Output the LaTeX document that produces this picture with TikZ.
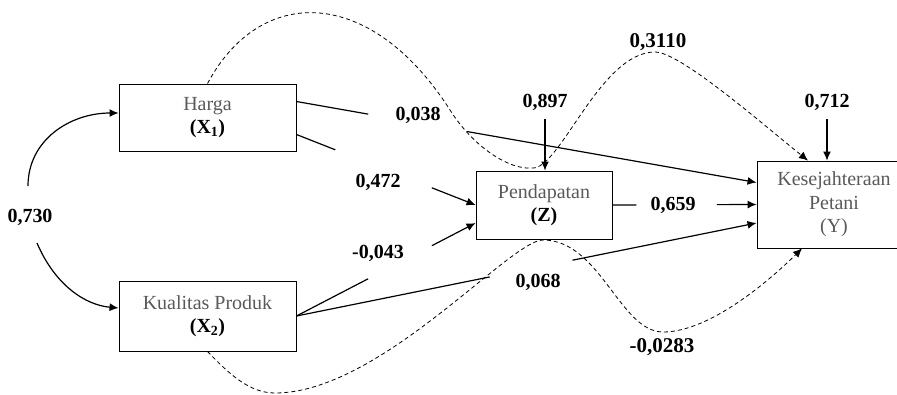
\documentclass[tikz,border=0pt]{standalone}
\usepackage{fontspec}
\setmainfont{Liberation Serif}
\usetikzlibrary{calc,arrows.meta}

\begin{document}
\begin{tikzpicture}[x=1pt,y=-1pt,
  box/.style={draw, line width=0.9pt, minimum width=177pt, minimum height=67pt,
    align=center, font=\fontsize{20}{23.5}\selectfont, text=black!65},
  lbl/.style={font=\fontsize{20}{22}\selectfont\bfseries, inner sep=1pt},
  link/.style={line width=1.2pt},
  arr/.style={line width=1.2pt, -{Latex[length=9pt,width=8pt]}},
  indirect/.style={line width=0.8pt, dash pattern=on 4pt off 3pt, -{Latex[length=9pt,width=8pt]}}]
  \clip (0,0) rectangle (897,394);
  %%%%% BOXES %%%%%
  \node[box] (harga) at (207.5,117.5) {Harga\\\textcolor{black}{\textbf{(X\textsubscript{1})}}};
  \node[box, minimum height=70pt] (kualitas) at (207.5,316) {Kualitas Produk\\\textcolor{black}{\textbf{(X\textsubscript{2})}}};
  \node[box, minimum width=136pt, minimum height=68pt] (pendapatan) at (544,205) {Pendapatan\\\textcolor{black}{\textbf{(Z)}}};
  \node[box, minimum width=154pt, minimum height=87pt] (sejahtera) at (834,204.5) {Kesejahteraan\\Petani\\(Y)};

  %%%%% DIRECT PATHS %%%%%
  \coordinate (h1) at ([yshift=16pt]harga.east);
  \coordinate (h2) at ([yshift=-17pt]harga.east);
  \coordinate (y1) at ([yshift=22pt]sejahtera.west);
  \coordinate (y3) at ([yshift=-18.5pt]sejahtera.west);
  \coordinate (z2) at ([yshift=-18pt]pendapatan.west);

  \draw[link] (h1) -- ($(h1)!0.156!(y1)$);
  \draw[arr] ($(h1)!0.371!(y1)$) -- (y1);
  \node[lbl] (p1) at (418,115) {0,038};

  \draw[link] (h2) -- ($(h2)!0.217!(pendapatan.west)$);
  \draw[arr] ($(h2)!0.756!(pendapatan.west)$) -- (pendapatan.west);
  \node[lbl] (p2) at (378,182) {0,472};

  \draw[link] (kualitas.east) -- ($(kualitas.east)!0.4!(z2)$);
  \draw[arr] ($(kualitas.east)!0.756!(z2)$) -- (z2);
  \node[lbl] (p3) at (378,253) {-0,043};

  \draw[link] (kualitas.east) -- ($(kualitas.east)!0.42!(y3)$);
  \draw[arr] ($(kualitas.east)!0.60!(y3)$) -- (y3);
  \node[lbl] (p4) at (538,282) {0,068};

  \draw[link] (pendapatan.east) -- ($(pendapatan.east)!0.166!(sejahtera.west)$);
  \draw[arr] ($(pendapatan.east)!0.724!(sejahtera.west)$) -- (sejahtera.west);
  \node[lbl] (p5) at (673,205) {0,659};

  %%%%% ERRORS %%%%%
  \node[lbl] (ez) at (545,102) {0,897};
  \draw[arr, shorten <=8pt] (ez.south) -- (ez.south |- pendapatan.north);
  \node[lbl] (ey) at (827,102) {0,712};
  \draw[arr, shorten <=8pt] (ey.south) -- (ey.south |- sejahtera.north);

  %%%%% CORRELATION %%%%%
  \node[lbl] (r12) at (30,217) {0,730};
  \coordinate (ctop) at (28,186);
  \coordinate (cbot) at (37,243);
  \draw[arr] (ctop) .. controls (28,140) and (70,113) .. ([yshift=4.5pt]harga.west);
  \draw[arr] (cbot) .. controls (55,285) and (85,305) .. ([yshift=8pt]kualitas.west);

  %%%%% INDIRECT PATHS %%%%%
  \draw[indirect] (harga.north) .. controls (260,-15) and (370,-15) .. (450,110)
    .. controls (474,148) and (510,170) .. (532,168)
    .. controls (560,170) and (600,52) .. (655,52)
    .. controls (680,52) and (760,122) .. ([xshift=-26pt]sejahtera.north);
  \node[lbl, font=\fontsize{21}{23}\selectfont\bfseries] (i1) at (658,42) {0,3110};

  \draw[indirect] (kualitas.south) .. controls (230,375) and (250,393) .. (275,393)
    .. controls (380,393) and (510,240) .. (543,240)
    .. controls (600,240) and (620,332) .. (663,332)
    .. controls (710,332) and (770,280) .. ([xshift=-32pt]sejahtera.south);
  \node[lbl, font=\fontsize{21}{23}\selectfont\bfseries] (i2) at (662,347) {-0,0283};
\end{tikzpicture}
\end{document}
